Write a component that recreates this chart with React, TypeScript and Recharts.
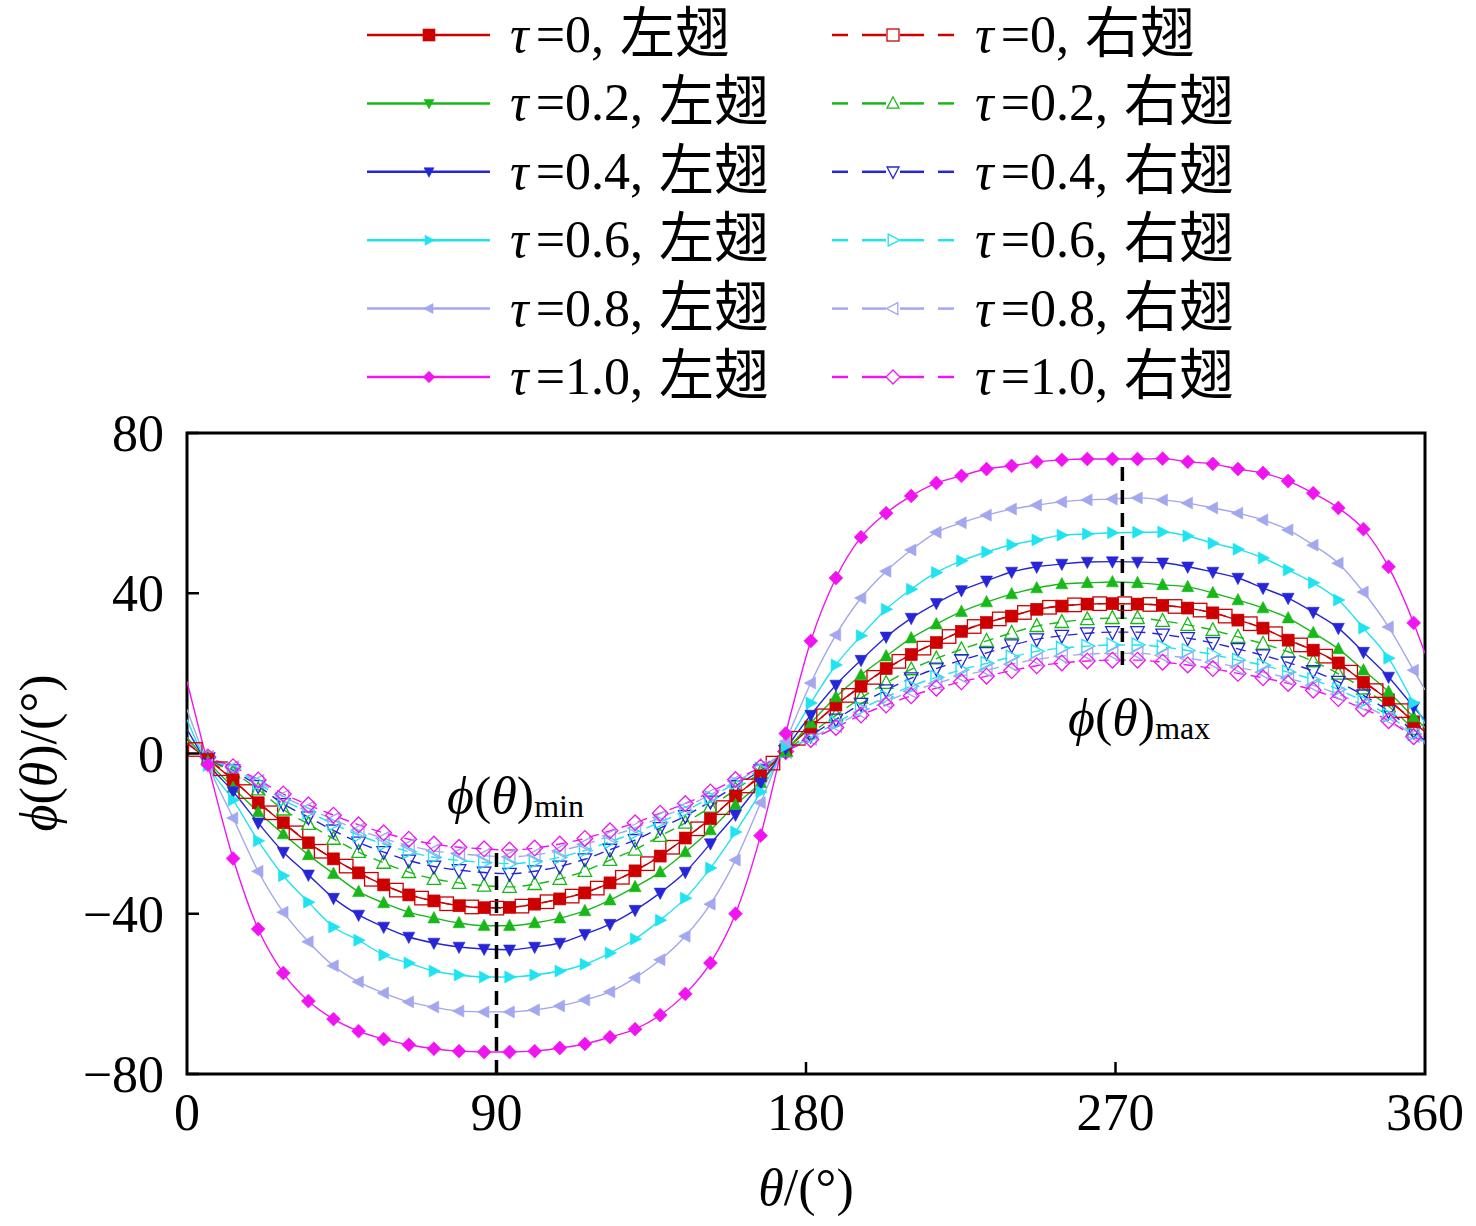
import React from "react";
import { LineChart, Line, XAxis, YAxis, ReferenceLine, ReferenceArea } from "recharts";

// 左翅与 τ>0 右翅的采样角度（首尾两点只画线不画标记）
const thetaLeft = [
  0, 6.1, 13.4, 20.7, 28.0, 35.3, 42.6, 49.9, 57.2, 64.5, 71.8, 79.1, 86.4, 93.8, 101.1, 108.4,
  115.7, 123.0, 130.3, 137.6, 144.9, 152.2, 159.5, 166.8, 174.1, 181.4, 188.7, 196.0, 203.3,
  210.6, 217.9, 225.2, 232.5, 239.8, 247.1, 254.4, 261.8, 269.1, 276.4, 283.7, 291.0, 298.3,
  305.6, 312.9, 320.2, 327.5, 334.8, 342.1, 349.4, 356.7, 360,
];
// τ=0 右翅的标记错开半个间隔
const thetaRight = [
  0, 2.4, 9.8, 17.1, 24.4, 31.7, 39.0, 46.3, 53.6, 60.9, 68.2, 75.5, 82.8, 90.1, 97.4, 104.7,
  112.0, 119.3, 126.6, 133.9, 141.2, 148.5, 155.8, 163.1, 170.4, 177.8, 185.1, 192.4, 199.7,
  207.0, 214.3, 221.6, 228.9, 236.2, 243.5, 250.8, 258.1, 265.4, 272.7, 280.0, 287.3, 294.6,
  301.9, 309.2, 316.5, 323.8, 331.1, 338.4, 345.8, 353.1, 360,
];

const leftTau0 = [
  2.5, -1.5, -6.6, -12.3, -17.3, -22.3, -26.3, -29.8, -32.8, -35.3, -36.8, -38.0, -38.5, -38.4,
  -37.6, -36.3, -34.8, -32.3, -29.3, -25.6, -21.1, -16.3, -10.6, -5.6, 0.9, 6.6, 12.1, 16.8, 21.2,
  24.7, 27.7, 30.5, 32.7, 34.3, 36.0, 36.8, 37.3, 37.4, 37.3, 37.0, 36.3, 35.1, 33.3, 31.3, 28.3,
  25.8, 22.6, 17.8, 13.4, 7.9, 5.4,
];
const leftTau02 = [
  4.0, -2.0, -8.5, -14.6, -20.1, -25.3, -30.0, -34.5, -37.3, -39.6, -41.1, -42.3, -43.0, -43.0,
  -42.3, -41.1, -39.3, -36.6, -33.3, -29.6, -24.6, -19.1, -12.8, -7.3, 0.5, 7.6, 14.1, 19.6, 24.3,
  28.8, 32.3, 35.4, 37.8, 39.8, 41.3, 42.3, 42.6, 42.8, 42.6, 42.1, 41.6, 40.1, 38.3, 36.3, 33.8,
  30.1, 26.1, 20.8, 15.4, 9.1, 6.5,
];
const leftTau04 = [
  6.0, -2.5, -9.5, -17.3, -24.6, -30.3, -36.1, -40.3, -43.3, -45.8, -47.3, -48.3, -48.8, -49.0,
  -48.3, -47.3, -45.1, -42.6, -39.1, -34.8, -29.6, -22.5, -15.3, -7.3, 1.2, 9.6, 17.1, 23.3, 29.1,
  33.8, 37.5, 40.7, 43.1, 45.3, 46.6, 47.3, 47.8, 47.9, 47.8, 47.6, 46.6, 45.3, 43.8, 41.3, 38.8,
  35.3, 31.3, 25.3, 19.1, 11.6, 8.2,
];
const leftTau06 = [
  8.5, -3.0, -11.6, -21.8, -30.5, -37.1, -43.3, -46.6, -50.3, -52.3, -54.3, -55.3, -55.8, -55.8,
  -55.3, -54.3, -52.6, -49.8, -46.3, -41.6, -36.1, -28.6, -19.6, -9.6, 1.8, 12.6, 22.1, 29.4, 36.0,
  41.0, 45.2, 48.1, 50.3, 52.1, 53.3, 54.5, 54.8, 55.1, 55.2, 55.3, 54.3, 52.5, 51.0, 48.8, 45.8,
  42.6, 38.3, 31.3, 23.8, 12.6, 7.5,
];
const leftTau08 = [
  11.0, -2.8, -16.1, -29.4, -39.6, -47.0, -53.0, -57.0, -59.8, -62.0, -63.3, -64.3, -64.5, -64.5,
  -64.0, -63.0, -61.5, -59.5, -56.0, -51.5, -45.6, -37.6, -26.6, -12.3, 3.0, 17.6, 29.6, 38.8,
  45.5, 50.8, 55.2, 57.6, 59.5, 61.0, 62.0, 62.8, 63.3, 63.5, 63.8, 63.3, 62.5, 61.3, 60.0, 58.3,
  55.8, 52.0, 47.5, 40.3, 31.6, 20.8, 15.9,
];
const leftTau10 = [
  18.0, -2.8, -26.2, -43.8, -54.8, -61.8, -66.3, -69.3, -71.3, -72.7, -73.7, -74.3, -74.5, -74.5,
  -74.3, -73.5, -72.5, -70.8, -68.8, -65.3, -60.0, -52.3, -40.0, -20.5, 5.0, 28.1, 43.8, 54.0,
  60.0, 64.3, 67.5, 69.3, 71.0, 71.8, 72.8, 73.3, 73.5, 73.5, 73.5, 73.6, 72.8, 72.3, 71.0, 70.0,
  68.0, 65.0, 61.3, 56.0, 46.6, 32.6, 25.0,
];

const rightTau0 = [
  3.5, 1.0, -3.8, -9.5, -14.8, -19.8, -24.4, -28.1, -31.4, -34.1, -36.1, -37.5, -38.3, -38.6,
  -38.1, -37.0, -35.6, -33.6, -30.9, -27.5, -23.4, -18.8, -13.5, -8.1, -2.4, 3.8, 9.4, 14.5, 19.0,
  23.0, 26.3, 29.2, 31.7, 33.6, 35.2, 36.5, 37.1, 37.4, 37.4, 37.2, 36.7, 35.8, 34.3, 32.4, 29.9,
  27.1, 24.3, 20.3, 15.7, 10.7, 6.0,
];
const rightTau02 = [
  3.0, -1.3, -4.7, -9.0, -14.0, -17.6, -21.3, -24.6, -27.3, -29.6, -31.3, -32.3, -33.0, -33.3,
  -32.6, -31.3, -29.3, -26.6, -24.0, -20.6, -17.3, -13.3, -9.0, -4.7, 0.7, 5.1, 9.5, 13.9, 17.6,
  21.0, 23.7, 26.0, 28.1, 30.1, 31.8, 32.8, 33.5, 33.8, 33.8, 33.1, 32.1, 30.8, 29.1, 27.4, 25.4,
  23.0, 19.9, 16.2, 11.8, 6.1, 3.5,
];
const rightTau04 = [
  3.0, -1.2, -4.2, -8.1, -12.6, -15.9, -19.2, -22.2, -24.6, -26.7, -28.2, -29.1, -29.7, -30.0,
  -29.4, -28.2, -26.4, -24.0, -21.6, -18.6, -15.6, -12.0, -8.1, -4.2, 0.6, 4.5, 8.5, 12.4, 15.8,
  18.8, 21.2, 23.3, 25.1, 27.0, 28.5, 29.4, 30.0, 30.3, 30.3, 29.7, 28.8, 27.6, 26.1, 24.5, 22.7,
  20.6, 17.9, 14.5, 10.6, 5.5, 3.2,
];
const rightTau06 = [
  3.0, -1.1, -3.9, -7.4, -11.6, -14.6, -17.6, -20.4, -22.6, -24.5, -25.9, -26.7, -27.2, -27.5,
  -27.0, -25.9, -24.2, -22.0, -19.8, -17.1, -14.3, -11.0, -7.4, -3.9, 0.5, 4.1, 7.6, 11.1, 14.1,
  16.8, 19.0, 20.9, 22.5, 24.1, 25.5, 26.3, 26.8, 27.1, 27.1, 26.6, 25.7, 24.7, 23.3, 22.0, 20.3,
  18.4, 16.0, 13.0, 9.5, 4.9, 2.8,
];
const rightTau08 = [
  3.0, -1.0, -3.6, -7.0, -10.8, -13.7, -16.5, -19.1, -21.2, -23.0, -24.3, -25.0, -25.5, -25.8,
  -25.3, -24.3, -22.7, -20.6, -18.6, -16.0, -13.4, -10.3, -7.0, -3.6, 0.5, 3.8, 7.0, 10.3, 13.0,
  15.5, 17.5, 19.3, 20.8, 22.3, 23.5, 24.3, 24.8, 25.0, 25.0, 24.5, 23.8, 22.8, 21.5, 20.3, 18.8,
  17.0, 14.8, 12.0, 8.8, 4.5, 2.6,
];
const rightTau10 = [
  2.5, -0.9, -3.3, -6.6, -10.1, -12.8, -15.4, -17.8, -19.8, -21.4, -22.6, -23.4, -23.8, -24.1,
  -23.6, -22.6, -21.2, -19.3, -17.3, -14.9, -12.5, -9.6, -6.5, -3.4, 0.5, 3.5, 6.5, 9.6, 12.1,
  14.4, 16.3, 17.9, 19.3, 20.7, 21.9, 22.6, 23.1, 23.3, 23.3, 22.8, 22.1, 21.2, 20.0, 18.9, 17.5,
  15.8, 13.7, 11.2, 8.2, 4.2, 2.4,
];

const xTicks = [0, 90, 180, 270, 360];
const yTicks = [-80, -40, 0, 40, 80];
const tauLabels = ["0", "0.2", "0.4", "0.6", "0.8", "1.0"];
const colors = ["#CC0000", "#19B819", "#2626D6", "#1FE3F0", "#A2A7EE", "#F014F0"];
const leftShapes = ["square", "up", "down", "right", "left", "diamond"];
const rightShapes = ["square", "up", "down", "right", "left", "diamond"];
const legendLeftShapes = ["square", "down", "down", "right", "left", "diamond"];
const leftValues = [leftTau0, leftTau02, leftTau04, leftTau06, leftTau08, leftTau10];
const rightValues = [rightTau0, rightTau02, rightTau04, rightTau06, rightTau08, rightTau10];

const FONT = "'Liberation Serif', 'Noto Sans CJK SC', serif";
const PHI = "\u03D5";

function Marker({ shape, cx, cy, color, filled, size }: any) {
  const s = size;
  const fill = filled ? color : "none";
  const sw = filled ? 0.6 : 1.3;
  if (shape === "square") {
    return <rect x={cx - s / 2} y={cy - s / 2} width={s} height={s} fill={fill} stroke={color} strokeWidth={sw} />;
  }
  let pts: number[][] = [];
  if (shape === "up") pts = [[cx, cy - s * 0.55], [cx - s / 2, cy + s * 0.4], [cx + s / 2, cy + s * 0.4]];
  if (shape === "down") pts = [[cx, cy + s * 0.55], [cx - s / 2, cy - s * 0.4], [cx + s / 2, cy - s * 0.4]];
  if (shape === "right") pts = [[cx + s * 0.55, cy], [cx - s * 0.4, cy - s / 2], [cx - s * 0.4, cy + s / 2]];
  if (shape === "left") pts = [[cx - s * 0.55, cy], [cx + s * 0.4, cy - s / 2], [cx + s * 0.4, cy + s / 2]];
  if (shape === "diamond") pts = [[cx, cy - s * 0.58], [cx + s * 0.58, cy], [cx, cy + s * 0.58], [cx - s * 0.58, cy]];
  return <polygon points={pts.map((p) => p.join(",")).join(" ")} fill={fill} stroke={color} strokeWidth={sw} />;
}

const series = [
  ...tauLabels.map((tau, i) => ({
    key: `R${i}`,
    theta: i === 0 ? thetaRight : thetaLeft,
    values: rightValues[i],
    color: colors[i],
    shape: rightShapes[i],
    filled: false,
  })),
  ...tauLabels.map((tau, i) => ({
    key: `L${i}`,
    theta: thetaLeft,
    values: leftValues[i],
    color: colors[i],
    shape: leftShapes[i],
    filled: true,
  })),
];

const fmt = (v: number) => (v < 0 ? `\u2212${-v}` : `${v}`);

function YTick(p: any) {
  const { x, y, payload } = p;
  return (
    <g>
      <line x1={x} x2={x + 12} y1={y} y2={y} stroke="#000" strokeWidth={2.5} />
      <text x={x - 23} y={y + 18} textAnchor="end" fontSize={52} fontFamily={FONT} fill="#000">
        {fmt(payload.value)}
      </text>
    </g>
  );
}

function XTick(p: any) {
  const { x, y, payload } = p;
  const inner = payload.value > 0 && payload.value < 360;
  return (
    <g>
      {inner && <line x1={x} x2={x} y1={y} y2={y - 12} stroke="#000" strokeWidth={2.5} />}
      <text x={x} y={y + 56} textAnchor="middle" fontSize={52} fontFamily={FONT} fill="#000">
        {fmt(payload.value)}
      </text>
    </g>
  );
}

function LegendLabel({ x, y, tau, wing }: any) {
  return (
    <text x={x} y={y}>
      <tspan fontStyle="italic">τ</tspan>
      <tspan dx={7}>={tau},</tspan>
      <tspan dx={16} fontSize={55}>{wing}</tspan>
    </text>
  );
}

function Legend() {
  const rowY = (i: number) => 35 + i * 68.4;
  return (
    <g fontFamily={FONT} fontSize={52} fill="#000">
      {tauLabels.map((tau, i) => {
        const cy = rowY(i);
        const c = colors[i];
        return (
          <g key={tau}>
            <line x1={367} x2={490} y1={cy} y2={cy} stroke={c} strokeWidth={2.5} />
            <Marker shape={legendLeftShapes[i]} cx={429} cy={cy} color={c} filled size={i === 0 ? 12 : 10} />
            <LegendLabel x={510} y={cy + 17} tau={tau} wing="左翅" />
            {[[832, 848], [862, 886], [900, 924], [938, 954]].map(([a, b]) => (
              <line key={a} x1={a} x2={b} y1={cy} y2={cy} stroke={c} strokeWidth={2.5} />
            ))}
            <Marker shape={rightShapes[i]} cx={893} cy={cy} color={c} filled={false} size={12} />
            <LegendLabel x={975} y={cy + 17} tau={tau} wing="右翅" />
          </g>
        );
      })}
    </g>
  );
}

export default function App() {
  return (
    <div style={{ position: "absolute", left: 0, top: 0, width: 1476, height: 1226, background: "#fff" }}>
      <LineChart width={1476} height={1226} margin={{ top: 433, right: 51, bottom: 52, left: 87 }}>
        <XAxis
          type="number"
          dataKey="theta"
          domain={[0, 360]}
          ticks={xTicks}
          interval={0}
          allowDataOverflow
          axisLine={false}
          tickLine={false}
          tickSize={0}
          tickMargin={0}
          height={100}
          tick={<XTick />}
        />
        <YAxis
          type="number"
          domain={[-80, 80]}
          ticks={yTicks}
          interval={0}
          allowDataOverflow
          axisLine={false}
          tickLine={false}
          tickSize={0}
          tickMargin={0}
          width={100}
          tick={<YTick />}
        />
        <ReferenceArea x1={0} x2={360} y1={-80} y2={80} fill="none" fillOpacity={0} stroke="#000" strokeWidth={3} />
        {series.map((s) => (
          <Line
            key={s.key}
            data={s.theta.map((t, i) => ({ theta: t, v: s.values[i] }))}
            dataKey="v"
            type="monotone"
            stroke={s.color}
            strokeWidth={1.4}
            strokeDasharray={s.filled ? undefined : "10 7"}
            isAnimationActive={false}
            activeDot={false}
            dot={(p: any) => {
              const { cx, cy, index } = p;
              const k = `${s.key}-${index}`;
              if (index === 0 || index === s.theta.length - 1 || cx == null) return <g key={k} />;
              return (
                <Marker
                  key={k}
                  shape={s.shape}
                  cx={cx}
                  cy={cy}
                  color={s.color}
                  filled={s.filled}
                  size={s.filled ? 12 : 13.5}
                />
              );
            }}
          />
        ))}
        <ReferenceLine
          segment={[{ x: 90, y: -80 }, { x: 90, y: -23.6 }]}
          stroke="#000"
          strokeWidth={3.5}
          strokeDasharray="14 9"
        />
        <ReferenceLine
          segment={[{ x: 272, y: 22.1 }, { x: 272, y: 73.5 }]}
          stroke="#000"
          strokeWidth={3.5}
          strokeDasharray="14 9"
        />
      </LineChart>
      <svg
        width={1476}
        height={1226}
        style={{ position: "absolute", left: 0, top: 0, pointerEvents: "none" }}
      >
        <Legend />
        <g fontFamily={FONT} fontSize={52} fill="#000">
          <text x={447} y={813}>
            <tspan fontStyle="italic">{PHI}</tspan>(<tspan fontStyle="italic">θ</tspan>)
            <tspan fontSize={32} dy={4}>min</tspan>
          </text>
          <text x={1068} y={735}>
            <tspan fontStyle="italic">{PHI}</tspan>(<tspan fontStyle="italic">θ</tspan>)
            <tspan fontSize={32} dy={4}>max</tspan>
          </text>
          <text x={806} y={1205} textAnchor="middle">
            <tspan fontStyle="italic">θ</tspan>/(°)
          </text>
          <text transform="translate(56,753) rotate(-90)" textAnchor="middle">
            <tspan fontStyle="italic">{PHI}</tspan>(<tspan fontStyle="italic">θ</tspan>)/(°)
          </text>
        </g>
      </svg>
    </div>
  );
}
